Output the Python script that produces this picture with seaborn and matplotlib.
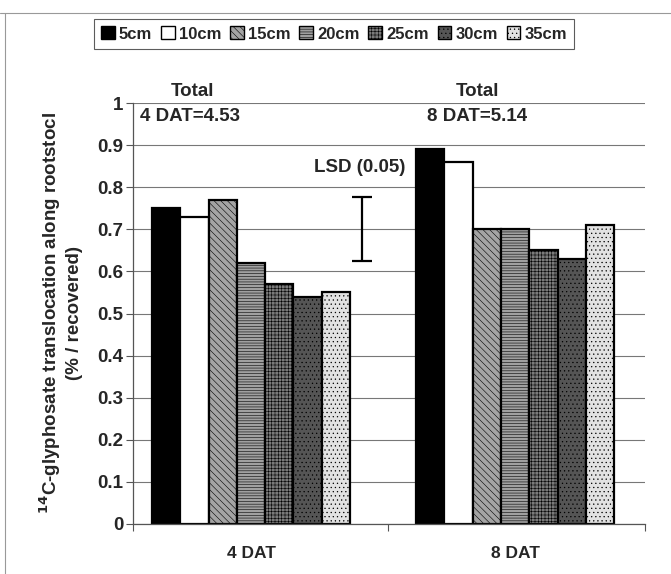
import numpy as np
import pandas as pd
import seaborn as sns
import matplotlib.pyplot as plt
from matplotlib.patches import Patch
from matplotlib.lines import Line2D

# ---- data ----
groups = ["4 DAT", "8 DAT"]
depths = ["5cm", "10cm", "15cm", "20cm", "25cm", "30cm", "35cm"]
vals_4dat = [0.75, 0.73, 0.77, 0.62, 0.57, 0.54, 0.55]
vals_8dat = [0.89, 0.86, 0.70, 0.70, 0.65, 0.63, 0.71]
yticks = [0, 0.1, 0.2, 0.3, 0.4, 0.5, 0.6, 0.7, 0.8, 0.9, 1]
ytick_labels = ["0", "0.1", "0.2", "0.3", "0.4", "0.5", "0.6", "0.7", "0.8", "0.9", "1"]
lsd_low, lsd_high = 0.625, 0.777

df = pd.DataFrame({
    "group": np.repeat(groups, len(depths)),
    "depth": depths * len(groups),
    "value": vals_4dat + vals_8dat,
})

faces = ["#000000", "#ffffff", "#a4a4a4", "#a0a0a0", "#7a7a7a", "#555555", "#e2e2e2"]
hatches = [None, None, "\\\\\\\\\\", "------", "+++++", "....", "...."]

sns.set_style("white")
plt.rcParams["font.family"] = ["Liberation Sans", "DejaVu Sans"]
plt.rcParams["font.weight"] = "bold"
plt.rcParams["hatch.linewidth"] = 0.4

fig = plt.figure(figsize=(6.71, 5.74), dpi=100)
ax = fig.add_axes([133 / 671, 50 / 574, (645 - 133) / 671, (524 - 103) / 574])

sns.barplot(data=df, x="group", y="value", hue="depth", hue_order=depths,
            palette=faces, width=0.75, edgecolor="black", linewidth=1.6,
            legend=False, ax=ax, saturation=1)

for cont, fc, h in zip(ax.containers, faces, hatches):
    for bar in cont:
        bar.set_facecolor(fc)
        bar.set_edgecolor("black")
        if h:
            bar.set_hatch(h)

ax.set_ylim(0, 1)
ax.set_xlim(-0.447, 1.492)
ax.set_yticks(yticks)
ax.set_yticklabels(ytick_labels, fontsize=13.5, fontweight="bold")
ax.yaxis.grid(True, color="#777777", linewidth=0.8)
ax.set_axisbelow(True)
ax.tick_params(axis="y", length=5, width=0.8, color="#555555", pad=2, left=True)

# category labels centered, boundary tick marks
ax.set_xticks([0, 1])
ax.set_xticklabels(groups, fontsize=12.5, fontweight="bold")
ax.tick_params(axis="x", length=0, pad=16)
ax.set_xticks([-0.447, 0.52, 1.492], minor=True)
ax.tick_params(axis="x", which="minor", length=5, width=0.8, color="#555555", bottom=True)

for side in ["top", "right"]:
    ax.spines[side].set_visible(False)
for side in ["left", "bottom"]:
    ax.spines[side].set_color("#555555")
    ax.spines[side].set_linewidth(0.9)

ax.set_xlabel("")
ax.set_ylabel(r"$^{\mathbf{14}}$C-glyphosate translocation along rootstocl" + "\n(% / recovered)",
              fontsize=13.5, fontweight="bold", labelpad=10, linespacing=1.25)

# LSD bar
lsd_x = 0.42
ax.errorbar([lsd_x], [(lsd_low + lsd_high) / 2], yerr=[[(lsd_high - lsd_low) / 2]],
            fmt="none", ecolor="black", elinewidth=1.6, capsize=7, capthick=1.6)
ax.text(lsd_x - 0.01, 0.846, "LSD (0.05)", ha="center", va="center", fontsize=13.5, fontweight="bold")

# totals
ax.text(-0.222, 1.028, "Total", ha="center", va="center", fontsize=13.5, fontweight="bold", clip_on=False)
ax.text(-0.42, 0.967, "4 DAT=4.53", ha="left", va="center", fontsize=13.5, fontweight="bold")
ax.text(0.858, 1.028, "Total", ha="center", va="center", fontsize=13.5, fontweight="bold", clip_on=False)
ax.text(0.855, 0.967, "8 DAT=5.14", ha="center", va="center", fontsize=13.5, fontweight="bold")

# legend
handles = [Patch(facecolor=fc, edgecolor="black", hatch=h, linewidth=1.0) for fc, h in zip(faces, hatches)]
leg = fig.legend(handles, depths, loc="center", bbox_to_anchor=(334 / 671, 1 - 34 / 574),
                 ncol=7, frameon=True, fancybox=False, edgecolor="#333333",
                 prop={"weight": "bold", "size": 12}, handlelength=0.8, handleheight=0.8,
                 handletextpad=0.25, columnspacing=0.55, borderpad=0.45, borderaxespad=0)
leg.get_frame().set_linewidth(0.8)

# outer frame (top and left)
fig.add_artist(Line2D([0, 1], [1 - 13 / 574] * 2, transform=fig.transFigure, color="#999999", lw=0.8))
fig.add_artist(Line2D([5 / 671] * 2, [0, 1 - 13 / 574], transform=fig.transFigure, color="#999999", lw=0.8))

fig.savefig("out.png", dpi=100)
